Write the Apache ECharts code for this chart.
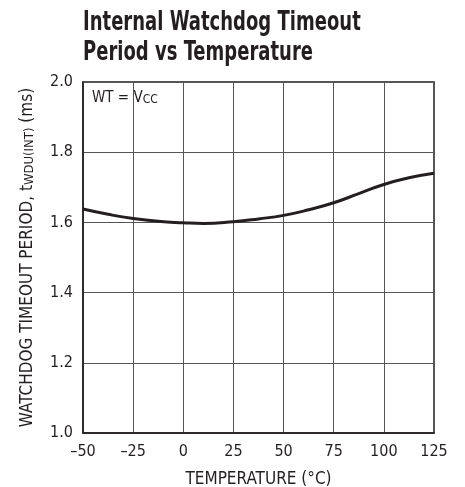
<!DOCTYPE html>
<html>
<head>
<meta charset="utf-8">
<script src="https://cdn.jsdelivr.net/npm/echarts@6/dist/echarts.min.js"></script>
<style>
html,body{margin:0;padding:0;background:#fff;}
#chart{width:465px;height:487px;}
</style>
</head>
<body>
<div id="chart"></div>
<script>
// Data
var temperature = [-50, -37.5, -25, -12.5, 0, 10, 25, 37.5, 50, 62.5, 75, 87.5, 100, 112.5, 125];
var period = [1.638, 1.623, 1.611, 1.603, 1.599, 1.597, 1.602, 1.610, 1.620, 1.636, 1.656, 1.682, 1.708, 1.727, 1.740];
var xTicks = [-50, -25, 0, 25, 50, 75, 100, 125];
var yTicks = [1.0, 1.2, 1.4, 1.6, 1.8, 2.0];
var titleLines = ['Internal Watchdog Timeout', 'Period vs Temperature'];

var FONT = '"DejaVu Sans Condensed", "Liberation Sans", sans-serif';
var INK = '#231f20';
var chart = echarts.init(document.getElementById('chart'));
chart.setOption({
  animation: false,
  graphic: [{
    type: 'text', left: 83, top: 8, scaleX: 0.77, scaleY: 1,
    style: {text: titleLines.join('\n'), fontFamily: FONT, fontWeight: 'bold', fontSize: 26, lineHeight: 30, fill: INK}
  }, {
    type: 'text', left: 92, top: 91,
    style: {
      text: '{n|WT = V}{s|CC}',
      rich: {
        n: {fontFamily: FONT, fontSize: 15, fill: INK, verticalAlign: 'bottom', lineHeight: 18},
        s: {fontFamily: FONT, fontSize: 12, fill: INK, verticalAlign: 'bottom', lineHeight: 13}
      }
    }
  }],
  grid: {left: 83, right: 31, top: 82, bottom: 54, show: true, borderColor: INK, borderWidth: 1.5,
         outerBoundsMode: 'none', containLabel: false},
  xAxis: {
    type: 'value', min: xTicks[0], max: xTicks[xTicks.length-1], interval: 25,
    axisLine: {show: true, onZero: false, lineStyle: {color: INK, width: 1.5}},
    axisTick: {show: false},
    splitLine: {show: true, lineStyle: {color: '#555', width: 1}},
    axisLabel: {fontFamily: FONT, fontSize: 16, color: INK, margin: 11,
      formatter: function(v){ return v < 0 ? '\u2013' + Math.abs(v) : String(v); }},
    name: 'TEMPERATURE (°C)', nameLocation: 'middle', nameGap: 38,
    nameTextStyle: {fontFamily: FONT, fontSize: 17, color: INK}
  },
  yAxis: {
    type: 'value', min: yTicks[0], max: yTicks[yTicks.length-1], interval: 0.2,
    axisLine: {show: true, onZero: false, lineStyle: {color: INK, width: 1.5}},
    axisTick: {show: false},
    splitLine: {show: true, lineStyle: {color: '#555', width: 1}},
    axisLabel: {fontFamily: FONT, fontSize: 16, color: INK, margin: 10,
      formatter: function(v){ return v.toFixed(1); }},
    name: '{n|WATCHDOG TIMEOUT PERIOD, t}{s|WDU(INT)}{n| (ms)}',
    nameLocation: 'middle', nameGap: 47, nameRotate: 90,
    nameTextStyle: {
      rich: {
        n: {fontFamily: FONT, fontSize: 17, color: INK, verticalAlign: 'bottom', lineHeight: 20},
        s: {fontFamily: FONT, fontSize: 13, color: INK, verticalAlign: 'bottom', lineHeight: 14}
      }
    }
  },
  series: [{
    type: 'line', smooth: true, showSymbol: false,
    data: temperature.map(function(t, i){ return [t, period[i]]; }),
    lineStyle: {color: INK, width: 3}
  }]
});
</script>
</body>
</html>
